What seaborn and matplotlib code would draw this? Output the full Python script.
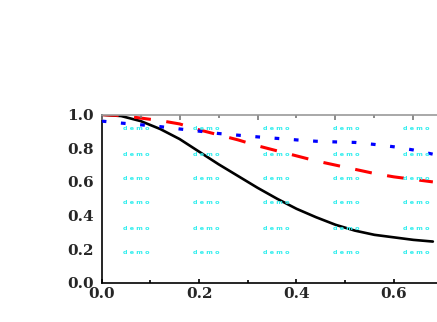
import matplotlib
matplotlib.use("Agg")
import matplotlib.pyplot as plt
import seaborn as sns
import pandas as pd

# ---- data ----
x_vals = [0.0, 0.04, 0.08, 0.12, 0.16, 0.20, 0.24, 0.28, 0.32, 0.36,
          0.40, 0.44, 0.48, 0.52, 0.56, 0.60, 0.64, 0.68]
black_vals = [1.0, 0.992, 0.962, 0.915, 0.855, 0.78, 0.705, 0.635, 0.565, 0.50,
              0.44, 0.39, 0.345, 0.31, 0.285, 0.27, 0.255, 0.245]
red_vals = [1.0, 0.995, 0.98, 0.965, 0.945, 0.91, 0.88, 0.85, 0.815, 0.785,
            0.755, 0.725, 0.70, 0.675, 0.65, 0.63, 0.615, 0.60]
blue_vals = [0.962, 0.95, 0.94, 0.929, 0.915, 0.902, 0.888, 0.878, 0.868, 0.859,
             0.85, 0.842, 0.838, 0.835, 0.823, 0.809, 0.79, 0.765]
xtick_vals = [0.0, 0.2, 0.4, 0.6]
xtick_labels = ["0.0", "0.2", "0.4", "0.6"]
ytick_vals = [0.0, 0.2, 0.4, 0.6, 0.8, 1.0]
ytick_labels = ["0.0", "0.2", "0.4", "0.6", "0.8", "1.0"]
watermark_text = "d e m o"

sns.set_style("white")
plt.rcParams["font.family"] = ["DejaVu Serif"]
plt.rcParams["lines.scale_dashes"] = False

df = pd.DataFrame({"x": x_vals, "black": black_vals, "red": red_vals, "blue": blue_vals})

fig = plt.figure(figsize=(4.37, 3.22), dpi=100)
ax = fig.add_axes([0.2327, 0.122, 0.7673, 0.5218])

# watermark grid (figure coords)
for cx in [136, 206, 276, 346, 416]:
    for cy in [129, 154, 178, 203, 228, 252]:
        fig.text(cx / 437, 1 - cy / 322, watermark_text, color="#33eeee",
                 fontsize=4.6, family="DejaVu Sans", fontweight="bold",
                 ha="center", va="center", zorder=0.5)

sns.lineplot(data=df, x="x", y="black", color="black", lw=1.9, ax=ax, zorder=3)
sns.lineplot(data=df, x="x", y="red", color="#ff0000", lw=2.2, ax=ax, zorder=3)
ax.lines[-1].set_dashes((12.2, 11.2))
sns.lineplot(data=df, x="x", y="blue", color="#0000ff", lw=2.3, ax=ax, zorder=3)
ax.lines[-1].set_dashes((3.4, 10.5))
for ln in ax.lines:
    ln.set_dash_capstyle("butt")

ax.patch.set_alpha(0)
ax.set_xlim(0, 0.6885)
ax.set_ylim(0, 1.0)
ax.set_xlabel("")
ax.set_ylabel("")
ax.set_xticks(xtick_vals)
ax.set_xticklabels(xtick_labels, fontweight="bold")
ax.set_xticks([0.1, 0.3, 0.5], minor=True)
ax.set_yticks(ytick_vals)
ax.set_yticklabels(ytick_labels, fontweight="bold")
ax.set_yticks([0.1, 0.3, 0.5, 0.7, 0.9], minor=True)

ax.tick_params(axis="x", which="major", direction="in", length=3, width=1.2,
               labelsize=11, pad=3, top=False, color="black")
ax.tick_params(axis="x", which="minor", direction="in", length=2, width=1.2,
               top=False, color="black")
ax.tick_params(axis="y", which="major", direction="out", length=4, width=1.2,
               labelsize=11, pad=1.5, color="black")
ax.tick_params(axis="y", which="minor", direction="out", length=2.5, width=1.2,
               color="black")

for side in ["left", "bottom"]:
    ax.spines[side].set_color("black")
    ax.spines[side].set_linewidth(1.2)
ax.spines["right"].set_visible(False)
ax.spines["top"].set_visible(False)

# top axis with its own tick spacing, no labels
axt = ax.twiny()
axt.set_xlim(ax.get_xlim())
axt.set_xticks([0.0, 0.16, 0.32, 0.48, 0.64])
axt.set_xticks([0.08, 0.24, 0.40, 0.56], minor=True)
axt.set_xticklabels([])
axt.tick_params(axis="x", which="major", direction="in", length=3.5, width=1.2,
                color="#777777", top=True, bottom=False)
axt.tick_params(axis="x", which="minor", direction="in", length=2, width=1.2,
                color="#777777", top=True, bottom=False)
axt.spines["top"].set_visible(True)
axt.spines["top"].set_color("#999999")
axt.spines["top"].set_linewidth(1.2)
for side in ["left", "bottom", "right"]:
    axt.spines[side].set_visible(False)

fig.savefig("out.png", dpi=100)
